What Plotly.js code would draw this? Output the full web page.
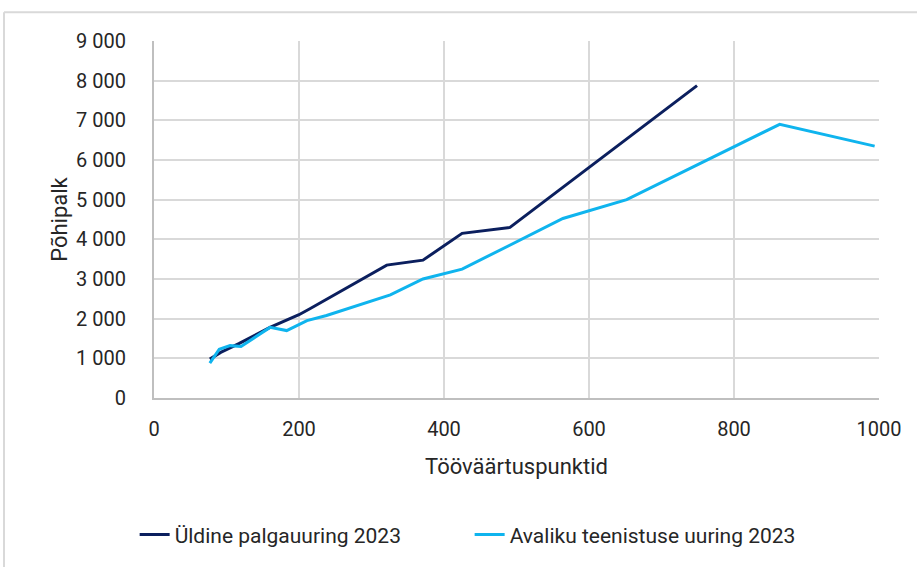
<!DOCTYPE html>
<html>
<head>
<meta charset="utf-8">
<script src="https://cdn.plot.ly/plotly-3.0.1.min.js"></script>
<style>
html,body{margin:0;padding:0;background:#fff;}
#chart{width:917px;height:567px;}
</style>
</head>
<body>
<div id="chart"></div>
<script>
// Series 1: Üldine palgauuring 2023
const generalX = [77, 92, 117, 160, 200, 215, 321, 371, 425, 491, 749];
const generalY = [980, 1150, 1370, 1780, 2100, 2250, 3350, 3475, 4150, 4300, 7875];
// Series 2: Avaliku teenistuse uuring 2023
const publicX = [77, 90, 105, 120, 160, 183, 211, 238, 326, 371, 425, 491, 564, 652, 863, 994];
const publicY = [880, 1230, 1320, 1300, 1780, 1700, 1950, 2080, 2600, 3000, 3250, 3850, 4525, 5000, 6900, 6350];

const seriesNames = ["Üldine palgauuring 2023", "Avaliku teenistuse uuring 2023"];
const xTickVals = [0, 200, 400, 600, 800, 1000];
const xTickText = ["0", "200", "400", "600", "800", "1000"];
const yTickVals = [0, 1000, 2000, 3000, 4000, 5000, 6000, 7000, 8000, 9000];
const yTickText = ["0", "1 000", "2 000", "3 000", "4 000", "5 000", "6 000", "7 000", "8 000", "9 000"];
const xTitle = "Tööväärtuspunktid";
const yTitle = "Põhipalk";

const font = "Roboto, 'Liberation Sans', sans-serif";

const traces = [
  {x: generalX, y: generalY, name: seriesNames[0], type: "scatter", mode: "lines",
   line: {color: "#0b1f5e", width: 3}},
  {x: publicX, y: publicY, name: seriesNames[1], type: "scatter", mode: "lines",
   line: {color: "#0fb4ee", width: 3}}
];

const layout = {
  width: 917, height: 567,
  margin: {l: 154, r: 38, t: 41, b: 166},
  paper_bgcolor: "#fff", plot_bgcolor: "#fff",
  font: {family: font, size: 20, color: "#262626"},
  showlegend: true,
  legend: {orientation: "h", x: -0.0267, xanchor: "left", y: -0.383, yanchor: "middle",
           entrywidth: 290, entrywidthmode: "pixels",
           font: {family: font, size: 21, color: "#262626"}, tracegroupgap: 0},
  xaxis: {
    range: [0, 1000], tickvals: xTickVals, ticktext: xTickText,
    showgrid: true, gridcolor: "#d9d9d9", gridwidth: 2,
    showline: true, linecolor: "#bfbfbf", linewidth: 2,
    zeroline: false, ticks: "", ticklabelstandoff: 12,
    title: {text: xTitle, font: {family: font, size: 22, color: "#262626"}, standoff: 19},
    automargin: false
  },
  yaxis: {
    range: [0, 9000], tickvals: yTickVals, ticktext: yTickText,
    showgrid: true, gridcolor: "#d9d9d9", gridwidth: 2,
    showline: true, linecolor: "#bfbfbf", linewidth: 2,
    zeroline: false, ticks: "", ticklabelstandoff: 22,
    title: {text: yTitle, font: {family: font, size: 22, color: "#262626"}, standoff: 2},
    automargin: false
  },
  shapes: [
    {type: "line", xref: "paper", yref: "paper", x0: -0.2069, x1: -0.2069, y0: 1.0806, y1: -0.5,
     line: {color: "#d9d9d9", width: 2}},
    {type: "line", xref: "paper", yref: "paper", x0: -0.2069, x1: 1.06, y0: 1.0806, y1: 1.0806,
     line: {color: "#d9d9d9", width: 2}}
  ]
};

Plotly.newPlot("chart", traces, layout, {displayModeBar: false, staticPlot: true});
</script>
</body>
</html>
